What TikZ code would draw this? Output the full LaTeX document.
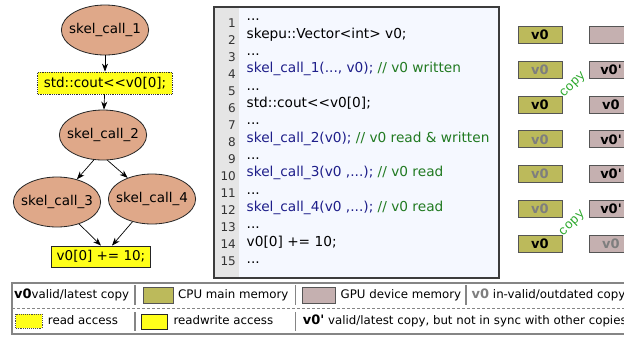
\documentclass[tikz,border=0pt]{standalone}
\usepackage{fontspec}
\newfontfamily\dejavu{DejaVu Sans}
\newfontfamily\copyfont{Liberation Mono}
\usetikzlibrary{shapes.geometric,arrows.meta,calc}

\definecolor{taskfill}{HTML}{DFA889}
\definecolor{accessfill}{HTML}{FFFF1A}
\definecolor{cpufill}{HTML}{BCBA5B}
\definecolor{gpufill}{HTML}{C5B0B0}
\definecolor{boxline}{HTML}{555555}
\definecolor{stalegray}{HTML}{7E7E7E}
\definecolor{codeback}{HTML}{F5F8FF}
\definecolor{numback}{HTML}{E5E5E5}
\definecolor{codeframe}{HTML}{3C3C3C}
\definecolor{skelblue}{HTML}{1E1E8A}
\definecolor{commentgreen}{HTML}{217A21}
\definecolor{copygreen}{HTML}{2CA82C}
\definecolor{legendgray}{HTML}{858585}

\newcommand\graphfont{\dejavu\fontsize{13.5}{16}\selectfont}
\newcommand\codefont{\dejavu\fontsize{13.7}{16}\selectfont}
\newcommand\numfont{\dejavu\fontsize{12}{14}\selectfont}
\newcommand\keyfont{\dejavu\fontsize{11.8}{14}\selectfont}
\newcommand\boxfont{\dejavu\bfseries\fontsize{13}{15}\selectfont}
\newcommand\skelcall[1]{\textcolor{skelblue}{#1}}
\newcommand\codecomment[1]{\textcolor{commentgreen}{#1}}
% \foreach treats three dots as a range, so the listing uses this instead
\newcommand\codedots{.\kern0pt.\kern0pt.}

\begin{document}
\begin{tikzpicture}
  [
    x = 1pt, y = -1pt,
    skel/.style      = {shape=ellipse, draw=black!85, line width=0.8pt,
                        fill=taskfill, minimum width=86, minimum height=50,
                        inner xsep=-5pt, inner ysep=0pt, font=\graphfont},
    readbox/.style   = {rectangle, draw=black!80, densely dotted,
                        line width=0.8pt, fill=accessfill, minimum height=22,
                        inner xsep=6pt, font=\graphfont},
    writebox/.style  = {rectangle, draw=black!85, line width=0.8pt,
                        fill=accessfill, minimum height=21,
                        inner xsep=5.5pt, font=\graphfont},
    flow/.style      = {draw, line width=0.7pt,
                        -{Stealth[length=8pt,width=6pt,inset=2.5pt]}},
    linenum/.style   = {anchor=base east, inner sep=0pt, text=black!80,
                        font=\numfont},
    codeline/.style  = {anchor=base west, inner sep=0pt, font=\codefont},
    % one copy of v0 in a memory space
    mem/.style       = {rectangle, draw=boxline, line width=1pt,
                        minimum width=44, minimum height=17, inner sep=0pt,
                        font=\boxfont},
    cpu/.style       = {mem, fill=cpufill},
    gpu/.style       = {mem, fill=gpufill},
    latest/.style    = {text=black},
    outdated/.style  = {text=stalegray},
    copylabel/.style = {rotate=45, inner sep=0pt, text=copygreen,
                        font=\copyfont\fontsize{13}{14}\selectfont},
    key/.style       = {anchor=base west, inner sep=0pt, font=\keyfont},
    swatch/.style    = {rectangle, draw=boxline, line width=0.9pt,
                        inner sep=0pt},
    keyrule/.style   = {draw=legendgray, line width=1.1pt}
  ]
  \useasboundingbox (0,0) rectangle (624,338);
  \clip (0,0) rectangle (624,338);

  % task graph
  \node [skel]     (call1) at (105,30)    {skel\_call\_1};
  \node [readbox]  (cout)  at (105,83)    {std::cout<<v0[0];};
  \node [skel]     (call2) at (103,135)   {skel\_call\_2};
  \node [skel]     (call3) at (57,202)    {skel\_call\_3};
  \node [skel]     (call4) at (152,199)   {skel\_call\_4};
  \node [writebox] (sum)   at (101,256.5) {v0[0] += 10;};

  \draw [flow] (call1) -- (cout);
  \draw [flow] (cout) -- (call2);
  \draw [flow] (call2.-110) -- (call3);
  \draw [flow] (call2.-80) -- (call4);
  \draw [flow] (call3) -- (sum.north);
  \draw [flow] (call4) -- ([xshift=11pt]sum.north);

  % source listing
  \fill [codeback] (214,7) rectangle (499,278);
  \fill [numback] (214,7) rectangle (239,278);
  \draw [codeframe, line width=1.2pt] (214,7) rectangle (499,278);
  \foreach \n in {1,2,...,15}
    \node [linenum] (num\n) at (236, {27.2+17.02*(\n-1)}) {\n};
  \foreach \txt [count=\n] in
    {\codedots,
     {skepu::Vector<int> v0;},
     \codedots,
     {\skelcall{skel\_call\_1(\codedots, v0);} \codecomment{// v0 written}},
     \codedots,
     {std::cout<<v0[0];},
     \codedots,
     {\skelcall{skel\_call\_2(v0);} \codecomment{// v0 read \& written}},
     \codedots,
     {\skelcall{skel\_call\_3(v0 ,\codedots);} \codecomment{// v0 read}},
     \codedots,
     {\skelcall{skel\_call\_4(v0 ,\codedots);} \codecomment{// v0 read}},
     \codedots,
     {v0[0] += 10;},
     \codedots}
    \node [codeline] (line\n) at (246.5, {20.8+17.33*(\n-1)}) {\txt};

  % copies of v0 after each step
  \foreach \r/\cpustate/\gpustate/\gputext in
    {1/latest/latest/{}, 2/outdated/latest/{v0'}, 3/latest/latest/v0,
     4/outdated/latest/{v0'}, 5/outdated/latest/{v0'},
     6/outdated/latest/{v0'}, 7/latest/outdated/v0}
  {
    \node [cpu, \cpustate] (cpu\r) at (540, {35+34.8*(\r-1)}) {v0};
    \node [gpu, \gpustate] (gpu\r) at (611, {35+34.8*(\r-1)}) {\gputext};
  }
  \node [copylabel, yshift=3pt] (copy1)
    at ($(cpu3.north east)!0.5!(gpu2.south west)$) {copy};
  \node [copylabel, yshift=4pt] (copy2)
    at ($(cpu7.north east)!0.5!(gpu6.south west)$) {copy};

  % legend
  \draw [keyrule] (12,283) rectangle (660,334);
  \draw [keyrule, line width=0.8pt, densely dashed] (12,308.5) -- (660,308.5);
  \foreach \x in {135,295.5,466}
    \draw [keyrule] (\x,285) -- (\x,305);
  \foreach \x in {135,295.5}
    \draw [keyrule] (\x,312) -- (\x,331);

  \node [key] (keylatest) at (14,298.5) {{\boxfont v0}valid/latest copy};
  \node [swatch, fill=cpufill, minimum width=30, minimum height=16]
    (keycpu) at (158,295.3) {};
  \node [key] (keycputxt) at (178,298.5) {CPU main memory};
  \node [swatch, fill=gpufill, minimum width=33, minimum height=16]
    (keygpu) at (319.3,295.3) {};
  \node [key] (keygputxt) at (340.5,298.5) {GPU device memory};
  \node [key] (keystale) at (471.5,298.5)
    {{\boxfont\color{stalegray}v0} in-valid/outdated copy};

  \node [swatch, fill=accessfill, draw=black!70, densely dotted,
         minimum width=26.5, minimum height=14]
    (keyread) at (29,321.3) {};
  \node [key] (keyreadtxt) at (47.7,324.8) {read access};
  \node [swatch, fill=accessfill, draw=black!85,
         minimum width=25.5, minimum height=15.5]
    (keywrite) at (154.5,322) {};
  \node [key] (keywritetxt) at (173.3,324.8) {readwrite access};
  \node [key] (keysync) at (302.7,324.8)
    {{\boxfont v0'} valid/latest copy, but not in sync with other copies};
\end{tikzpicture}
\end{document}
